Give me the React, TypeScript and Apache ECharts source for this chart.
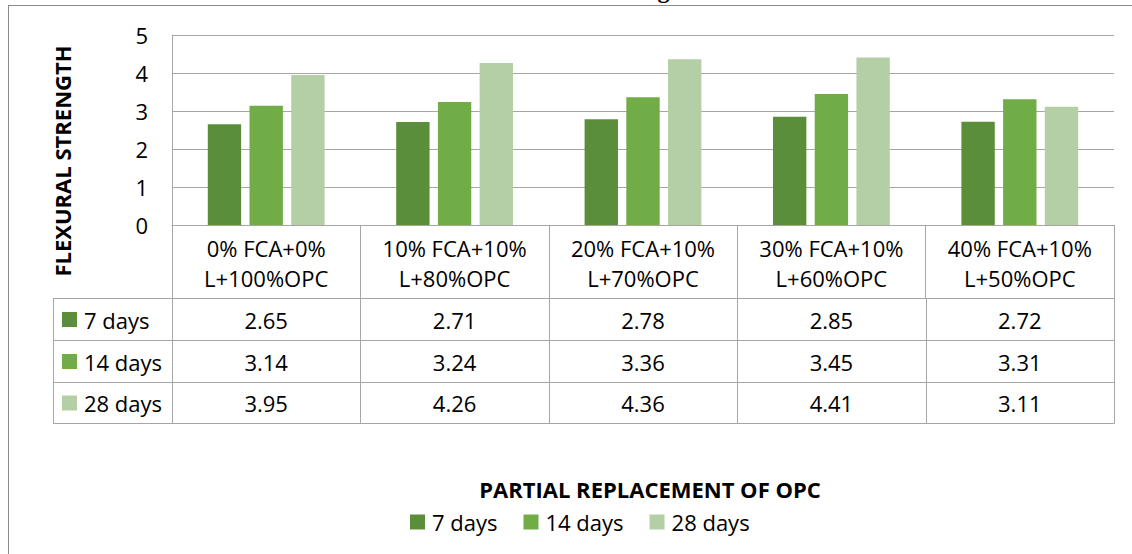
import React, { useEffect, useRef } from "react";
import * as echarts from "echarts";

const categories = [
  "0% FCA+0%\nL+100%OPC",
  "10% FCA+10%\nL+80%OPC",
  "20% FCA+10%\nL+70%OPC",
  "30% FCA+10%\nL+60%OPC",
  "40% FCA+10%\nL+50%OPC",
];
const seriesNames = ["7 days", "14 days", "28 days"];
const days7 = [2.65, 2.71, 2.78, 2.85, 2.72];
const days14 = [3.14, 3.24, 3.36, 3.45, 3.31];
const days28 = [3.95, 4.26, 4.36, 4.41, 3.11];
const seriesValues = [days7, days14, days28];
const colors = ["#5b8e3b", "#70ad47", "#b4cfa5"];
const yTicks = { min: 0, max: 5, interval: 1 };
const chartTitle = "Chart of Flexural Strength Test";
const yTitle = "FLEXURAL STRENGTH";
const xTitle = "PARTIAL REPLACEMENT OF OPC";

const FONT = "'Open Sans', 'Noto Sans', sans-serif";

export default function App() {
  const ref = useRef<HTMLDivElement>(null);
  useEffect(() => {
    if (!ref.current) return;
    const chart = echarts.init(ref.current, undefined, { renderer: "svg" });
    const W = 1132;
    const H = 554;
    const GL = 172, GT = 35, GR = 1114, GB = 225;
    const TL = 53;
    const rowY = [298, 340, 382, 423];
    const colW = (GR - GL) / categories.length;
    const gridColor = "#a6a6a6";

    const graphics: any[] = [];
    const line = (x1: number, y1: number, x2: number, y2: number, stroke = gridColor) =>
      graphics.push({
        type: "line",
        silent: true,
        shape: { x1, y1, x2, y2 },
        style: { stroke, lineWidth: 1 },
      });

    // outer frame
    line(8.5, 5, 8.5, H, "#8c8c8c");
    line(8, 5.5, W, 5.5, "#8c8c8c");

    // table horizontal lines
    rowY.forEach((y) => line(TL, y + 0.5, GR + 0.5, y + 0.5));
    // table verticals
    line(TL + 0.5, rowY[0], TL + 0.5, rowY[rowY.length - 1] + 0.5);
    for (let c = 0; c <= categories.length; c++) {
      const x = Math.round(GL + c * colW) + 0.5;
      line(x, rowY[0], x, rowY[rowY.length - 1] + 0.5);
    }

    // table rows
    seriesNames.forEach((name, i) => {
      const yc = (rowY[i] + rowY[i + 1]) / 2 + 0.5;
      graphics.push({
        type: "rect",
        silent: true,
        shape: { x: 62, y: yc - 7.5, width: 15, height: 15 },
        style: { fill: colors[i] },
      });
      graphics.push({
        type: "text",
        silent: true,
        x: 84,
        y: yc,
        style: {
          text: name,
          align: "left",
          verticalAlign: "middle",
          font: `22px ${FONT}`,
          fill: "#000",
        },
      });
      seriesValues[i].forEach((v, c) => {
        graphics.push({
          type: "text",
          silent: true,
          x: GL + (c + 0.5) * colW,
          y: yc,
          style: {
            text: v.toFixed(2),
            align: "center",
            verticalAlign: "middle",
            font: `22px ${FONT}`,
            fill: "#000",
          },
        });
      });
    });

    // axis titles
    graphics.push({
      type: "text",
      silent: true,
      x: 62,
      y: 161,
      rotation: Math.PI / 2,
      style: {
        text: yTitle,
        align: "center",
        verticalAlign: "middle",
        font: `bold 22px ${FONT}`,
        fill: "#000",
      },
    });
    graphics.push({
      type: "text",
      silent: true,
      x: 650,
      y: 489,
      style: {
        text: xTitle,
        align: "center",
        verticalAlign: "middle",
        font: `bold 22px ${FONT}`,
        fill: "#000",
      },
    });
    // chart title, cut off by the top edge as in the reference
    graphics.push({
      type: "text",
      silent: true,
      x: 577,
      y: 2,
      style: {
        text: chartTitle,
        align: "center",
        verticalAlign: "bottom",
        font: `bold 24px 'Liberation Serif', serif`,
        fill: "#000",
      },
    });

    chart.setOption({
      animation: false,
      backgroundColor: "#ffffff",
      grid: {
        left: GL,
        top: GT,
        width: GR - GL,
        height: GB - GT,
        containLabel: false,
      },
      xAxis: {
        type: "category",
        data: categories,
        axisLine: { show: true, lineStyle: { color: gridColor, width: 1 } },
        axisTick: { show: true, length: rowY[0] - GB, lineStyle: { color: gridColor } },
        axisLabel: {
          interval: 0,
          margin: 8,
          fontSize: 22,
          lineHeight: 30,
          fontFamily: FONT,
          color: "#000",
        },
      },
      yAxis: {
        type: "value",
        min: yTicks.min,
        max: yTicks.max,
        interval: yTicks.interval,
        axisLine: { show: true, lineStyle: { color: gridColor, width: 1 } },
        axisTick: { show: false },
        splitLine: { show: true, lineStyle: { color: gridColor, width: 1 } },
        axisLabel: { fontSize: 22, fontFamily: FONT, color: "#000", margin: 24 },
      },
      legend: {
        data: seriesNames,
        left: 405,
        top: 506,
        icon: "rect",
        itemWidth: 15,
        itemHeight: 15,
        itemGap: 26,
        textStyle: { fontSize: 22, fontFamily: FONT, color: "#000", lineHeight: 22, padding: [0, 0, 0, 2] },
      },
      series: seriesNames.map((name, i) => ({
        name,
        type: "bar",
        data: seriesValues[i],
        itemStyle: { color: colors[i] },
        barGap: "25%",
        barCategoryGap: "38%",
      })),
      graphic: graphics,
    });
    return () => chart.dispose();
  }, []);
  return (
    <div
      ref={ref}
      style={{ position: "absolute", left: 0, top: 0, width: 1132, height: 554 }}
    />
  );
}
